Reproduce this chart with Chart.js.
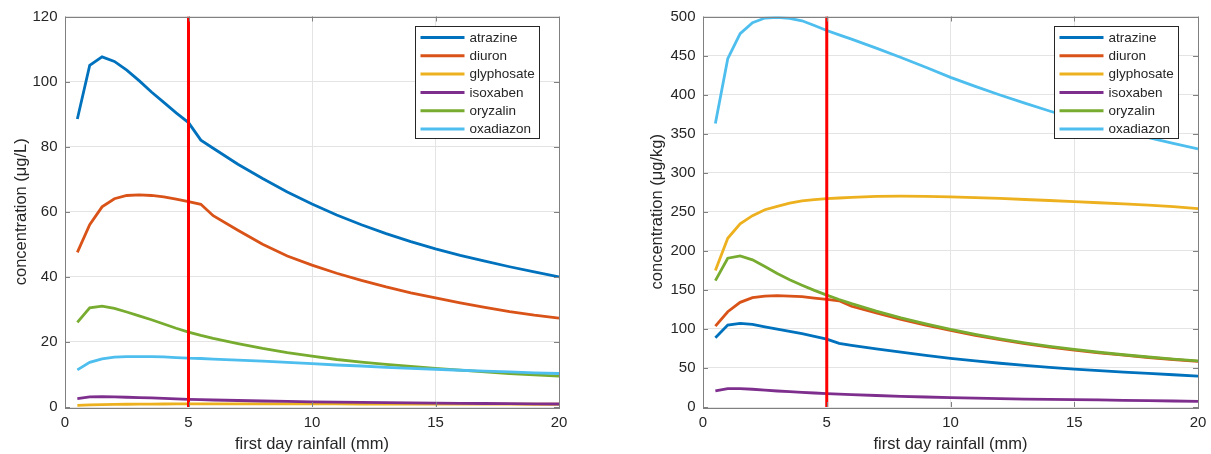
<!DOCTYPE html>
<html>
<head>
<meta charset="utf-8">
<script src="https://cdn.jsdelivr.net/npm/chart.js@4/dist/chart.umd.min.js"></script>
<style>
  html, body { margin: 0; padding: 0; background: #fff; overflow: hidden; }
  #wrap { position: relative; width: 1211px; height: 454px; overflow: hidden; }
  .panel { position: absolute; top: 0; height: 454px; }
  #left { left: 0; width: 605px; }
  #right { left: 605px; width: 612px; }
</style>
</head>
<body>
<div id="wrap">
  <div class="panel" id="left"><canvas id="waterChart"></canvas></div>
  <div class="panel" id="right"><canvas id="soilChart"></canvas></div>
</div>
<script>
// First-day rainfall (mm) at which each concentration was evaluated
const rainfall = [0.5, 1, 1.5, 2, 2.5, 3, 3.5, 4, 4.5, 5, 5.5, 6,
                  7, 8, 9, 10, 11, 12, 13, 14, 15, 16, 17, 18, 19, 20];

const compounds = ['atrazine', 'diuron', 'glyphosate', 'isoxaben', 'oryzalin', 'oxadiazon'];
const compoundColors = ['#0072BD', '#D95319', '#EDB120', '#7E2F8E', '#77AC30', '#4DBEEE'];

// Runoff water concentration (µg/L)
const waterAtrazine   = [88.5, 105, 107.6, 106.2, 103.5, 100.3, 96.8, 93.6, 90.4, 87.4, 82, 79.5,
                         74.6, 70.2, 66.1, 62.4, 59.0, 56.0, 53.3, 50.8, 48.6, 46.6, 44.8, 43.1, 41.5, 40.0];
const waterDiuron     = [47.5, 56, 61.5, 64, 65, 65.2, 65, 64.6, 63.9, 63.1, 62.3, 58.8,
                         54.3, 50.0, 46.4, 43.6, 41.1, 38.9, 36.9, 35.1, 33.5, 32.0, 30.6, 29.3, 28.2, 27.3];
const waterGlyphosate = [0.5, 0.65, 0.75, 0.8, 0.85, 0.88, 0.9, 0.92, 0.93, 0.94, 0.94, 0.95,
                         0.95, 0.95, 0.94, 0.94, 0.93, 0.92, 0.91, 0.9, 0.89, 0.88, 0.87, 0.86, 0.85, 0.84];
const waterIsoxaben   = [2.6, 3.1, 3.15, 3.1, 3.0, 2.9, 2.8, 2.65, 2.5, 2.35, 2.25, 2.15,
                         2.0, 1.85, 1.72, 1.6, 1.5, 1.42, 1.35, 1.28, 1.2, 1.14, 1.08, 1.02, 0.97, 0.92];
const waterOryzalin   = [26, 30.5, 31, 30.3, 29.2, 28, 26.8, 25.5, 24.2, 23, 22, 21.1,
                         19.5, 18, 16.7, 15.6, 14.6, 13.8, 13.1, 12.5, 11.9, 11.3, 10.8, 10.3, 9.9, 9.5];
const waterOxadiazon  = [11.4, 13.7, 14.8, 15.3, 15.5, 15.5, 15.5, 15.4, 15.2, 15.0, 14.9, 14.7,
                         14.4, 14.1, 13.7, 13.3, 12.9, 12.6, 12.2, 11.9, 11.6, 11.3, 11.0, 10.8, 10.5, 10.3];

// Soil concentration (µg/kg)
const soilAtrazine   = [88.6, 105, 107, 105.7, 102.7, 99.7, 96.8, 93.8, 90.5, 87, 81.5, 79,
                        74.5, 70.4, 66, 62.3, 59, 56, 53.3, 50.8, 48.5, 46.5, 44.7, 43, 41.3, 39.5];
const soilDiuron     = [103.6, 122, 134, 140, 142, 142.5, 142, 141.3, 139.5, 137.8, 136, 129,
                        120.5, 112.3, 104.8, 98, 91.8, 86.2, 81.2, 76.8, 72.9, 69.4, 66.3, 63.4, 60.8, 58.5];
const soilGlyphosate = [174.7, 216, 234.6, 245, 252.6, 257, 261, 264, 265.5, 266.7, 267.6, 268.4,
                        269.7, 270, 269.8, 269, 268, 267, 265.7, 264.4, 263, 261.5, 260, 258.5, 256.5, 254];
const soilIsoxaben   = [20.5, 23.5, 23.5, 22.7, 21.6, 20.5, 19.6, 18.8, 17.9, 17, 16.4, 15.8,
                        14.7, 13.7, 12.8, 12, 11.3, 10.7, 10.2, 9.8, 9.4, 9, 8.5, 8.1, 7.7, 7.3];
const soilOryzalin   = [161.8, 190.5, 193.5, 188.4, 179.8, 171, 163, 156, 149.3, 143.2, 137.6, 132.4,
                        122.8, 114.2, 106.4, 99.3, 93, 87.3, 82.2, 77.7, 73.7, 70.1, 66.9, 64, 61.4, 59];
const soilOxadiazon  = [363, 446, 478, 492, 498, 499, 497.5, 494.5, 488.5, 482, 476.5, 471,
                        459.5, 447.5, 435, 422, 410.5, 399.5, 389, 379, 369.5, 360.5, 352.5, 345, 337.5, 330.5];

// Reference rainfall marked with a vertical line
const markerRainfall = 5;

const xTicks = [0, 5, 10, 15, 20];
const waterTicks = [0, 20, 40, 60, 80, 100, 120];
const soilTicks = [0, 50, 100, 150, 200, 250, 300, 350, 400, 450, 500];

const FONT = '"Liberation Sans", Arial, Helvetica, sans-serif';
const TEXT = '#262626';
const AXIS = '#808080';
const GRID = '#e4e4e4';

// Draws the closed axes box with inward tick marks on all four sides,
// then a boxed legend in the upper-right corner of the plot area.
const axesDecor = {
  id: 'axesDecor',
  afterDatasetsDraw(chart) {
    const { ctx, chartArea: a, scales } = chart;
    const tick = 5;
    ctx.save();
    ctx.strokeStyle = AXIS;
    ctx.lineWidth = 1;
    ctx.beginPath();
    scales.x.ticks.forEach(t => {
      const px = Math.round(scales.x.getPixelForValue(t.value)) + 0.5;
      ctx.moveTo(px, a.bottom); ctx.lineTo(px, a.bottom - tick);
      ctx.moveTo(px, a.top); ctx.lineTo(px, a.top + tick);
    });
    scales.y.ticks.forEach(t => {
      const py = Math.round(scales.y.getPixelForValue(t.value)) + 0.5;
      ctx.moveTo(a.left, py); ctx.lineTo(a.left + tick, py);
      ctx.moveTo(a.right, py); ctx.lineTo(a.right - tick, py);
    });
    ctx.stroke();
    ctx.strokeRect(Math.round(a.left) + 0.5, Math.round(a.top) + 0.5,
                   Math.round(a.right - a.left), Math.round(a.bottom - a.top));

    // legend
    const items = chart.data.datasets.filter(d => d.inLegend !== false);
    const boxW = 124, rowH = 18.3, boxH = 112;
    const bx = Math.round(a.right - 20.5 - boxW) + 0.5;
    const by = Math.round(a.top + 9) + 0.5;
    ctx.fillStyle = '#fff';
    ctx.fillRect(bx, by, boxW, boxH);
    ctx.strokeStyle = '#262626';
    ctx.strokeRect(bx, by, boxW, boxH);
    ctx.font = '13.5px ' + FONT;
    ctx.textBaseline = 'middle';
    ctx.textAlign = 'left';
    items.forEach((d, i) => {
      const y = by + 11 + i * rowH;
      ctx.strokeStyle = d.borderColor;
      ctx.lineWidth = 3;
      ctx.beginPath();
      ctx.moveTo(bx + 5, y); ctx.lineTo(bx + 49, y);
      ctx.stroke();
      ctx.fillStyle = TEXT;
      ctx.fillText(d.label, bx + 54, y + 0.5);
    });
    ctx.restore();
  }
};

function makeChart(canvasId, series, yMax, yTicks, yTitle, yWidth, yTitlePad, rightPad) {
  const datasets = series.map((values, i) => ({
    label: compounds[i],
    data: rainfall.map((r, k) => ({ x: r, y: values[k] })),
    borderColor: compoundColors[i],
    borderWidth: 2.8,
    pointRadius: 0,
    tension: 0,
    fill: false,
    order: -i
  }));
  datasets.push({
    label: 'first day rainfall ' + markerRainfall + ' mm',
    inLegend: false,
    data: [{ x: markerRainfall, y: 0 }, { x: markerRainfall, y: yMax }],
    borderColor: '#ff0000',
    borderWidth: 3,
    pointRadius: 0,
    order: -10
  });

  return new Chart(document.getElementById(canvasId), {
    type: 'line',
    data: { datasets },
    plugins: [axesDecor],
    options: {
      responsive: true,
      maintainAspectRatio: false,
      animation: false,
      devicePixelRatio: 1,
      layout: { padding: { top: 16, right: rightPad, bottom: 0, left: 0 } },
      plugins: { legend: { display: false }, tooltip: { enabled: false } },
      scales: {
        x: {
          type: 'linear',
          min: 0, max: 20,
          afterBuildTicks: s => { s.ticks = xTicks.map(v => ({ value: v })); },
          afterFit: s => { s.height = 47; },
          grid: { color: GRID, drawTicks: false },
          border: { display: false },
          ticks: { color: TEXT, font: { family: FONT, size: 15 }, padding: 7, maxRotation: 0 },
          title: {
            display: true, text: 'first day rainfall (mm)', color: TEXT,
            font: { family: FONT, size: 16.5 }, padding: { top: 0, bottom: 0 }
          }
        },
        y: {
          type: 'linear',
          min: 0, max: yMax,
          afterBuildTicks: s => { s.ticks = yTicks.map(v => ({ value: v })); },
          afterFit: s => { s.width = yWidth; },
          grid: { color: GRID, drawTicks: false },
          border: { display: false },
          ticks: { color: TEXT, font: { family: FONT, size: 15 }, padding: 7.5 },
          title: {
            display: true, text: yTitle, color: TEXT,
            font: { family: FONT, size: 16.5 }, padding: { top: yTitlePad, bottom: 0 }
          }
        }
      }
    }
  });
}

makeChart('waterChart',
  [waterAtrazine, waterDiuron, waterGlyphosate, waterIsoxaben, waterOryzalin, waterOxadiazon],
  120, waterTicks, 'concentration (μg/L)', 65, 12, 46);

makeChart('soilChart',
  [soilAtrazine, soilDiuron, soilGlyphosate, soilIsoxaben, soilOryzalin, soilOxadiazon],
  500, soilTicks, 'concentration (μg/kg)', 98, 43, 19);
</script>
</body>
</html>
